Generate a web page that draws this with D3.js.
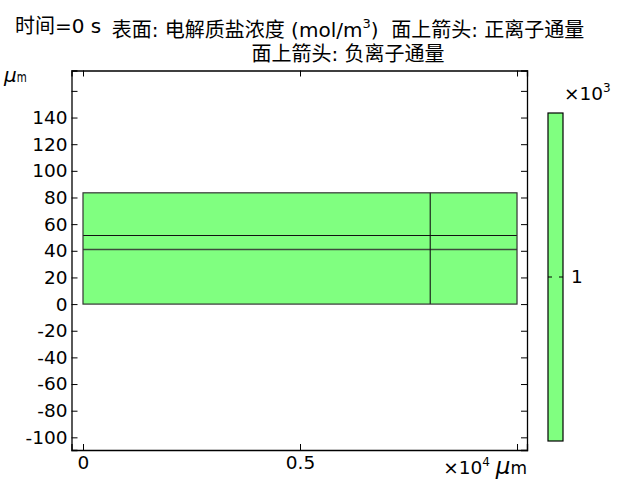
<!DOCTYPE html>
<html><head><meta charset="utf-8">
<script src="https://cdn.jsdelivr.net/npm/d3@7"></script>
<style>
body{margin:0;background:#fff;}
text{font-family:"DejaVu Sans","Noto Sans CJK SC",sans-serif;white-space:pre;}
</style></head>
<body><svg id="c" width="640" height="480"></svg>
<script>
// ---- data ----
const domainXs = [0, 8000, 10000];          // μm, vertical boundaries
const domainYs = [0, 41, 51.5, 83.5];       // μm, horizontal boundaries
const xTicks = [0, 5000, 10000];
const xTickLabels = ["0", "0.5", ""];
const yTicks = [-100,-80,-60,-40,-20,0,20,40,60,80,100,120,140,160];
const yTickLabels = ["-100","-80","-60","-40","-20","0","20","40","60","80","100","120","140",""];
const xLimits = [-265, 10230];
const yLimits = [-109.5, 175.3];
const concentration = [1000];               // mol/m^3 (uniform)
const cbarTicks = [1000];
const cbarTickLabels = ["1"];
const timeLabel = "时间=0 s";
const titleLines = ["表面: 电解质盐浓度 (mol/m", ")\u00a0\u00a0面上箭头: 正离子通量", "面上箭头: 负离子通量"];

const svg = d3.select("#c");
const L = 71.5, R = 527, T = 70.5, B = 450;
const x = d3.scaleLinear().domain(xLimits).range([L, R]);
const y = d3.scaleLinear().domain(yLimits).range([B, T]);
const green = "#80ff80";

// domain fill
svg.append("rect")
  .attr("x", x(domainXs[0])).attr("y", y(domainYs[domainYs.length-1]))
  .attr("width", x(domainXs[domainXs.length-1]) - x(domainXs[0]))
  .attr("height", y(domainYs[0]) - y(domainYs[domainYs.length-1]))
  .attr("fill", green);

// internal horizontal boundaries
domainYs.slice(1, -1).forEach((v, i) => {
  svg.append("line")
    .attr("x1", x(domainXs[0])).attr("x2", x(domainXs[domainXs.length-1]))
    .attr("y1", y(v)).attr("y2", y(v))
    .attr("stroke", i === 0 ? "#3c4c3c" : "#111")
    .attr("stroke-width", i === 0 ? 1.6 : 1.1);
});
// internal vertical boundaries
domainXs.slice(1, -1).forEach(v => {
  svg.append("line")
    .attr("x1", x(v)).attr("x2", x(v))
    .attr("y1", y(domainYs[0])).attr("y2", y(domainYs[domainYs.length-1]))
    .attr("stroke", "#111").attr("stroke-width", 1.1);
});
// outer boundary
svg.append("rect")
  .attr("x", x(domainXs[0])).attr("y", y(domainYs[domainYs.length-1]))
  .attr("width", x(domainXs[domainXs.length-1]) - x(domainXs[0]))
  .attr("height", y(domainYs[0]) - y(domainYs[domainYs.length-1]))
  .attr("fill", "none").attr("stroke", "#333").attr("stroke-width", 1.2);

// axes (inward ticks, frame on all sides)
const fs = "18.5px";
const gL = svg.append("g").attr("transform", `translate(${L},0)`)
  .call(d3.axisLeft(y).tickValues(yTicks).tickSize(-6).tickPadding(4)
    .tickFormat((d,i) => yTickLabels[i]));
const gR = svg.append("g").attr("transform", `translate(${R},0)`)
  .call(d3.axisRight(y).tickValues(yTicks).tickSize(-6).tickFormat(""));
const gT = svg.append("g").attr("transform", `translate(0,${T})`)
  .call(d3.axisTop(x).tickValues(xTicks).tickSize(-6).tickFormat(""));
const gB = svg.append("g").attr("transform", `translate(0,${B})`)
  .call(d3.axisBottom(x).tickValues(xTicks).tickSize(-6).tickPadding(6)
    .tickFormat((d,i) => xTickLabels[i]));
[gL,gR,gT,gB].forEach(g => {
  g.select(".domain").attr("stroke", "#000").attr("stroke-width", 1.3);
  g.selectAll(".tick line").attr("stroke", "#000").attr("stroke-width", 1);
  g.selectAll("text").attr("font-size", fs).attr("fill", "#000")
    .attr("font-family", "DejaVu Sans");
});

// axis unit labels
const yl = svg.append("text").attr("x", 4).attr("y", 82);
yl.append("tspan").attr("font-style", "italic").attr("font-size", "20px").text("μ");
yl.append("tspan").attr("font-size", "14px").attr("textLength", 10)
  .attr("lengthAdjust", "spacingAndGlyphs").text("m");

const xl = svg.append("text").attr("x", R).attr("y", 474)
  .attr("text-anchor", "end").attr("font-size", "18.5px");
xl.append("tspan").text("×10");
xl.append("tspan").attr("font-size", "12px").attr("dy", -8).text("4");
xl.append("tspan").attr("dy", 8).text("\u00a0");
xl.append("tspan").attr("font-style", "italic").attr("font-size", "23px").text("μ");
xl.append("tspan").attr("font-size", "17px").text("m");

// titles
svg.append("text").attr("x", 15).attr("y", 33).attr("font-size", "20px").text(timeLabel);
const t1 = svg.append("text").attr("x", 348).attr("y", 37).attr("text-anchor", "middle")
  .attr("font-size", "20px");
t1.append("tspan").text(titleLines[0]);
t1.append("tspan").attr("font-size", "13px").attr("dy", -9).text("3");
t1.append("tspan").attr("dy", 9).text(titleLines[1]);
svg.append("text").attr("x", 348).attr("y", 61).attr("text-anchor", "middle")
  .attr("font-size", "20px").text(titleLines[2]);

// colorbar
const cb = {x: 548, w: 15, top: 113, bot: 441};
const cy = d3.scaleLinear().domain([concentration[0] - 1, concentration[0] + 1]).range([cb.bot, cb.top]);
svg.append("rect").attr("x", cb.x).attr("y", cb.top).attr("width", cb.w)
  .attr("height", cb.bot - cb.top).attr("fill", green)
  .attr("stroke", "#000").attr("stroke-width", 1.2);
cbarTicks.forEach((v, i) => {
  svg.append("line").attr("x1", cb.x).attr("x2", cb.x + 4).attr("y1", cy(v)).attr("y2", cy(v))
    .attr("stroke", "#000");
  svg.append("line").attr("x1", cb.x + cb.w - 4).attr("x2", cb.x + cb.w).attr("y1", cy(v)).attr("y2", cy(v))
    .attr("stroke", "#000");
  svg.append("text").attr("x", cb.x + cb.w + 8).attr("y", cy(v)).attr("dy", "0.35em")
    .attr("font-size", fs).text(cbarTickLabels[i]);
});
const ct = svg.append("text").attr("x", 564).attr("y", 100).attr("font-size", "18.5px");
ct.append("tspan").text("×10");
ct.append("tspan").attr("font-size", "12px").attr("dy", -8).text("3");
</script></body></html>
